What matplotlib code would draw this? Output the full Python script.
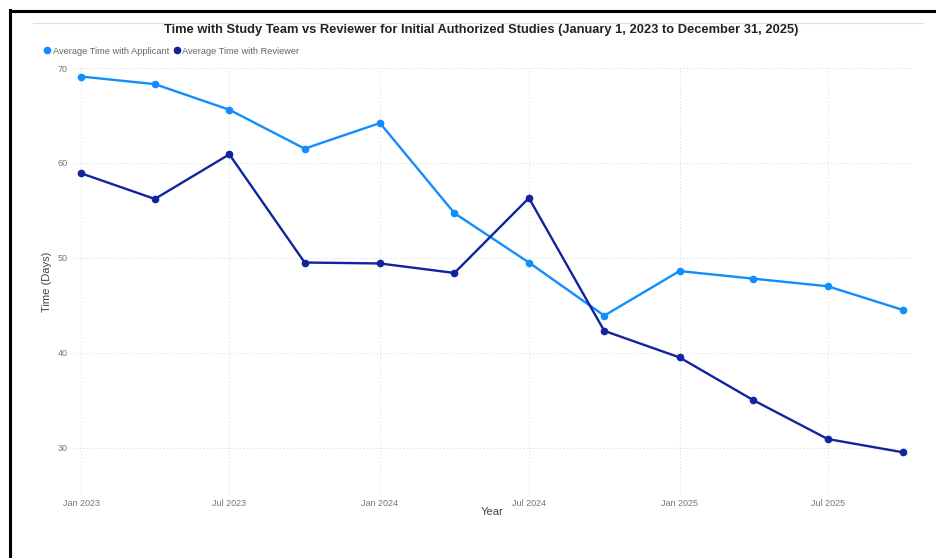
import datetime as dt
import matplotlib
matplotlib.use("Agg")
import matplotlib.pyplot as plt
import matplotlib.dates as mdates
from matplotlib.lines import Line2D

plt.rcParams['font.family'] = ['Liberation Sans', 'DejaVu Sans']

# quarterly points, Jan 2023 .. Oct 2025
quarters = ["2023-01-01", "2023-04-01", "2023-07-01", "2023-10-01",
            "2024-01-01", "2024-04-01", "2024-07-01", "2024-10-01",
            "2025-01-01", "2025-04-01", "2025-07-01", "2025-10-01"]
applicant = [69.1, 68.3, 65.6, 61.5, 64.2, 54.7, 49.5, 43.9, 48.6, 47.8, 47.0, 44.5]
reviewer = [58.9, 56.2, 60.9, 49.5, 49.4, 48.4, 56.3, 42.3, 39.5, 35.0, 30.9, 29.5]

dates = [dt.datetime.strptime(q, "%Y-%m-%d") for q in quarters]

fig = plt.figure(figsize=(9.37, 5.58), dpi=100)
ax = fig.add_axes([73/937, 1 - 495/558, (912-73)/937, (495-68)/558])

ax.plot(dates, applicant, color='#118DFF', lw=1.7, marker='o', ms=4.5, zorder=3)
ax.plot(dates, reviewer, color='#12239E', lw=1.7, marker='o', ms=4.5, zorder=3)

ax.set_ylim(25, 70)
ax.set_yticks([30, 40, 50, 60, 70])
ax.set_xlim(dt.datetime(2022, 12, 22), dt.datetime(2025, 10, 12))
ax.xaxis.set_major_locator(mdates.MonthLocator(bymonth=[1, 7]))
ax.xaxis.set_major_formatter(mdates.DateFormatter('%b %Y'))

for s in ax.spines.values():
    s.set_visible(False)
ax.grid(True, color='#dddddd', ls=(0, (1, 2)), lw=0.8)
ax.tick_params(axis='x', length=0, labelsize=6.5, colors='#777777', pad=3)
ax.tick_params(axis='y', length=0, labelsize=6.5, colors='#777777', pad=4)

ax.set_xlabel('Year', fontsize=8, color='#444444', labelpad=-1)
ax.set_ylabel('Time (Days)', fontsize=8, color='#444444', labelpad=4)

fig.text(481/937, 1 - 30/558, 'Time with Study Team vs Reviewer for Initial Authorized Studies (January 1, 2023 to December 31, 2025)',
         ha='center', va='center', fontsize=9.3, fontweight='bold', color='#222222')

# legend row at top left
fig.legend(handles=[Line2D([], [], ls='', marker='o', ms=4.5, color='#118DFF', label='Average Time with Applicant'),
                    Line2D([], [], ls='', marker='o', ms=4.5, color='#12239E', label='Average Time with Reviewer')],
           loc='center left', bbox_to_anchor=(40/937, 1 - 51/558), ncol=2, frameon=False,
           fontsize=6.7, labelcolor='#666666', handlelength=0.5, handletextpad=0.35,
           columnspacing=0.6, borderpad=0)

# screenshot frame
fig.add_artist(Line2D([10/937, 10/937], [0, 1 - 10/558], color='black', lw=2.2))
fig.add_artist(Line2D([10/937, 1], [1 - 11/558, 1 - 11/558], color='black', lw=2.2))
fig.add_artist(Line2D([33/937, 923/937], [1 - 23/558, 1 - 23/558], color='#dddddd', lw=0.8))

fig.savefig('out.png', dpi=100)
